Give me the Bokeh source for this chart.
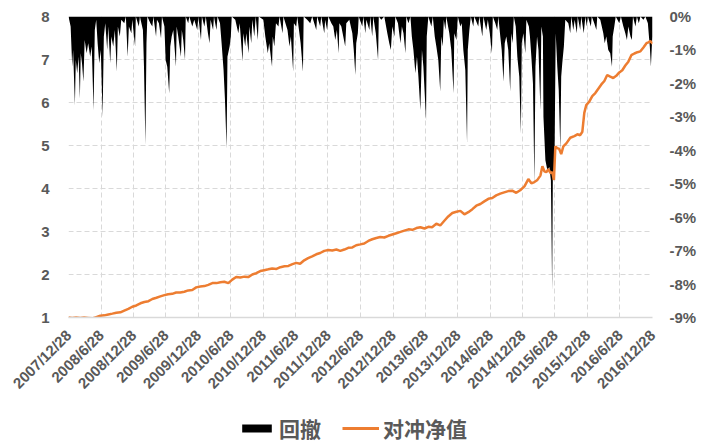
import math
import pandas as pd
from bokeh.plotting import figure
from bokeh.layouts import column
from bokeh.models import (Range1d, LinearAxis, FixedTicker, Legend, LegendItem,
                          PrintfTickFormatter)
from bokeh.embed import file_html
from bokeh.resources import INLINE

# ---------------- data ----------------
tick_labels = ["2007/12/28", "2008/6/28", "2008/12/28", "2009/6/28", "2009/12/28",
               "2010/6/28", "2010/12/28", "2011/6/28", "2011/12/28", "2012/6/28",
               "2012/12/28", "2013/6/28", "2013/12/28", "2014/6/28", "2014/12/28",
               "2015/6/28", "2015/12/28", "2016/6/28", "2016/12/28"]

left_ticks = [1, 2, 3, 4, 5, 6, 7, 8]
right_ticks = [0, -1, -2, -3, -4, -5, -6, -7, -8, -9]

dd_dates = [
    "2007-12-28", "2008-01-09", "2008-01-18", "2008-01-23", "2008-02-02", "2008-02-07",
    "2008-02-15", "2008-02-23", "2008-03-01", "2008-03-06", "2008-03-13", "2008-03-21",
    "2008-03-28", "2008-04-08", "2008-04-17", "2008-04-28", "2008-05-07", "2008-05-17",
    "2008-05-24", "2008-06-01", "2008-06-09", "2008-06-18", "2008-06-27", "2008-07-07",
    "2008-07-14", "2008-07-22", "2008-08-02", "2008-08-08", "2008-08-19", "2008-08-25",
    "2008-09-05", "2008-09-14", "2008-09-25", "2008-10-01", "2008-10-12", "2008-10-20",
    "2008-11-06", "2008-11-15", "2008-11-25", "2008-12-02", "2008-12-16", "2008-12-21",
    "2009-01-06", "2009-01-10", "2009-01-27", "2009-02-02", "2009-02-19", "2009-02-25",
    "2009-03-05", "2009-03-11", "2009-03-16", "2009-04-02", "2009-04-13", "2009-04-19",
    "2009-05-04", "2009-05-09", "2009-05-20", "2009-06-01", "2009-06-06", "2009-06-20",
    "2009-06-27", "2009-07-06", "2009-07-17", "2009-07-23", "2009-07-31", "2009-08-09",
    "2009-08-24", "2009-08-28", "2009-09-06", "2009-09-21", "2009-09-26", "2009-10-04",
    "2009-10-14", "2009-10-18", "2009-11-01", "2009-11-07", "2009-11-24", "2009-12-05",
    "2009-12-22", "2009-12-28", "2010-01-12", "2010-01-17", "2010-01-31", "2010-02-08",
    "2010-02-20", "2010-03-01", "2010-03-07", "2010-03-21", "2010-03-26", "2010-04-09",
    "2010-04-15", "2010-04-29", "2010-05-08", "2010-05-19", "2010-05-27", "2010-06-05",
    "2010-06-10", "2010-06-22", "2010-06-29", "2010-07-04", "2010-07-24", "2010-08-10",
    "2010-08-18", "2010-09-03", "2010-09-07", "2010-09-18", "2010-09-24", "2010-10-07",
    "2010-10-11", "2010-10-22", "2010-10-28", "2010-11-08", "2010-11-16", "2010-11-28",
    "2010-12-03", "2010-12-29", "2011-01-09", "2011-01-23", "2011-01-31", "2011-02-16",
    "2011-02-20", "2011-03-01", "2011-03-10", "2011-03-24", "2011-03-30", "2011-04-16",
    "2011-04-21", "2011-05-14", "2011-05-25", "2011-06-02", "2011-06-15", "2011-06-19",
    "2011-07-02", "2011-07-08", "2011-07-27", "2011-08-09", "2011-08-13", "2011-09-02",
    "2011-09-19", "2011-09-30", "2011-10-23", "2011-10-28", "2011-11-14", "2011-11-20",
    "2011-12-07", "2011-12-12", "2011-12-23", "2011-12-30", "2012-01-16", "2012-01-27",
    "2012-02-07", "2012-02-16", "2012-02-26", "2012-03-01", "2012-03-12", "2012-03-23",
    "2012-04-03", "2012-04-09", "2012-04-26", "2012-05-13", "2012-05-21", "2012-05-30",
    "2012-06-04", "2012-06-13", "2012-06-18", "2012-07-08", "2012-07-14", "2012-07-25",
    "2012-07-31", "2012-08-17", "2012-08-22", "2012-09-02", "2012-09-08", "2012-09-22",
    "2012-10-05", "2012-10-09", "2012-10-23", "2012-11-09", "2012-11-26", "2012-12-07",
    "2012-12-16", "2012-12-24", "2013-01-05", "2013-01-10", "2013-01-25", "2013-02-08",
    "2013-02-16", "2013-02-25", "2013-03-08", "2013-03-13", "2013-03-25", "2013-04-05",
    "2013-04-13", "2013-04-22", "2013-05-03", "2013-05-12", "2013-05-20", "2013-05-31",
    "2013-06-09", "2013-06-17", "2013-07-02", "2013-07-06", "2013-07-15", "2013-08-01",
    "2013-08-09", "2013-08-20", "2013-08-29", "2013-09-09", "2013-09-20", "2013-09-26",
    "2013-10-04", "2013-10-10", "2013-10-19", "2013-10-24", "2013-11-10", "2013-11-21",
    "2013-12-04", "2013-12-08", "2013-12-20", "2013-12-28", "2014-01-11", "2014-01-19",
    "2014-01-28", "2014-02-08", "2014-02-18", "2014-02-22", "2014-03-03", "2014-03-11",
    "2014-03-25", "2014-03-31", "2014-04-22", "2014-04-28", "2014-05-15", "2014-05-21",
    "2014-06-06", "2014-06-15", "2014-06-26", "2014-07-08", "2014-07-13", "2014-07-27",
    "2014-08-07", "2014-08-13", "2014-08-24", "2014-09-01", "2014-09-11", "2014-09-18",
    "2014-09-27", "2014-10-08", "2014-10-19", "2014-10-25", "2014-11-02", "2014-11-08",
    "2014-11-19", "2014-11-28", "2014-12-09", "2014-12-18", "2014-12-23", "2015-01-01",
    "2015-01-12", "2015-01-18", "2015-02-01", "2015-02-07", "2015-02-15", "2015-02-24",
    "2015-03-04", "2015-03-10", "2015-03-19", "2015-03-27", "2015-04-07", "2015-04-12",
    "2015-04-21", "2015-04-24", "2015-05-05", "2015-05-16", "2015-05-27", "2015-06-05",
    "2015-06-12", "2015-06-16", "2015-06-25", "2015-07-02", "2015-07-11", "2015-07-19",
    "2015-07-28", "2015-08-02", "2015-08-08", "2015-08-17", "2015-08-25", "2015-09-11",
    "2015-09-22", "2015-09-28", "2015-10-09", "2015-10-17", "2015-10-29", "2015-11-03",
    "2015-11-17", "2015-11-23", "2015-12-07", "2015-12-16", "2015-12-24", "2015-12-30",
    "2016-01-16", "2016-01-21", "2016-02-04", "2016-02-16", "2016-02-21", "2016-03-09",
    "2016-03-26", "2016-04-03", "2016-04-12", "2016-04-23", "2016-05-04", "2016-05-14",
    "2016-05-18", "2016-05-27", "2016-06-04", "2016-06-24", "2016-07-03", "2016-07-17",
    "2016-07-28", "2016-08-06", "2016-08-14", "2016-08-26", "2016-09-03", "2016-09-09",
    "2016-09-23", "2016-10-01", "2016-10-12", "2016-10-21", "2016-11-07", "2016-11-18",
    "2016-12-02", "2016-12-08", "2016-12-13", "2016-12-19", "2016-12-25", "2016-12-28",
]
dd_values = [
    0, -0.3, -1.5, -1.0, -2.65, -1.3,
    -1.7, -1.2, -2.45, -1.1, -1.4, -1.95,
    -0.7, -1.1, -0.8, -1.2, -0.9, -2.8,
    -0.4, -0.1, -0.8, -1.4, -1.0, -3.0,
    -0.6, -0.2, -1.0, -0.3, -1.4, -0.6,
    -0.9, -0.4, -1.65, -0.3, -0.6, -0.1,
    -0.2, 0, -1.2, -0.3, -0.5, -0.1,
    -0.9, 0, -0.3, 0, -0.4, -1.5,
    -3.85, -0.8, 0, -0.2, -0.3, 0,
    -0.6, -0.1, -0.2, -0.65, 0, -0.3,
    -1.3, -1.5, -2.3, -0.9, -0.6, -0.4,
    -1.5, -0.3, -0.6, -1.2, -0.4, -0.7,
    -1.3, 0, -0.2, 0, -0.3, -0.1,
    -0.4, 0, -0.7, 0, -0.3, 0,
    -0.5, -0.8, -0.1, -0.4, 0, -0.4,
    0, -0.2, -0.8, -1.6, -2.5, -3.95,
    -1.2, -0.9, -0.6, 0, -0.1, -0.5,
    -0.2, -1.35, -0.5, -0.9, -0.5, -1.1,
    -0.3, -0.8, -0.1, -0.6, 0, -0.7,
    0, -0.1, -0.6, -1.1, -0.8, -1.5,
    -0.6, -0.9, -0.2, -0.3, 0, -0.5,
    0, -0.4, -0.9, -0.6, -1.65, -0.2,
    -0.3, 0, -0.8, -1.65, 0, -0.1,
    -0.2, 0, -0.4, 0, -0.3, 0,
    -0.5, -0.1, -0.4, 0, -0.2, -0.3,
    -0.7, -0.4, -1.1, -0.2, -0.3, -0.6,
    -0.9, -0.2, -0.1, -0.5, -1.0, -1.75,
    -0.8, -0.5, 0, -0.3, 0, -0.5,
    -0.1, -0.4, 0, -0.6, 0, -0.5,
    -1.3, 0, -0.1, 0, -0.5, -0.8,
    -1.0, -0.3, -0.6, 0, -0.2, -0.8,
    -0.3, -0.5, -1.1, 0, -0.2, 0,
    -0.6, -1.0, -1.7, -1.2, -1.8, -2.8,
    -1.0, -1.5, -3.1, -0.6, 0, -0.3,
    0, -0.6, -0.9, -1.3, -2.25, -0.6,
    -0.9, -0.1, -0.4, 0, -0.5, -1.0,
    -2.3, -0.5, -0.7, 0, -0.3, -0.2,
    -1.0, -1.6, -3.8, -1.0, -0.4, 0,
    -0.3, 0, -0.3, 0, -0.6, 0,
    -0.4, -0.1, -0.5, -1.1, 0, -0.2,
    -0.4, 0, -0.6, -1.0, -1.95, -0.8,
    -0.6, -1.0, -2.25, -0.5, -0.8, 0,
    -0.3, -1.2, -1.8, -3.5, -0.8, -0.5,
    -1.1, -0.1, -0.3, -0.6, -1.2, -2.0,
    -5.0, -1.5, -0.6, -1.0, -2.8, -0.3,
    -0.6, -3.0, -4.3, -4.6, -4.5, -4.9,
    -8.2, -4.8, -4.5, -0.5, -1.5, -2.2,
    -4.0, -1.8, -1.4, -0.9, -0.1, -0.2,
    -0.5, 0, -0.4, -0.1, -0.5, 0,
    -0.4, 0, -0.5, 0, -0.3, 0,
    -0.3, 0, -0.2, -0.4, 0, -0.1,
    -0.5, -0.8, -0.6, -1.0, -1.1, -1.5,
    -0.6, -0.3, 0, -0.2, 0, -0.3,
    -0.5, -0.7, -0.3, -0.6, -0.7, 0,
    -0.3, 0, -0.2, 0, -0.1, 0,
    -0.2, -0.6, -0.9, -1.5, -0.8, -0.6,
]

nav_dates = [
    "2007-12-28", "2008-01-18", "2008-02-09", "2008-03-03", "2008-03-25", "2008-04-17",
    "2008-05-09", "2008-06-01", "2008-06-24", "2008-07-17", "2008-08-08", "2008-08-31",
    "2008-09-22", "2008-10-15", "2008-11-06", "2008-11-29", "2008-12-21", "2009-01-13",
    "2009-02-05", "2009-02-27", "2009-03-22", "2009-04-13", "2009-05-06", "2009-05-28",
    "2009-06-20", "2009-07-11", "2009-08-03", "2009-08-25", "2009-09-17", "2009-10-10",
    "2009-11-01", "2009-11-24", "2009-12-16", "2010-01-08", "2010-01-31", "2010-02-22",
    "2010-03-17", "2010-04-09", "2010-05-01", "2010-05-23", "2010-06-15", "2010-07-07",
    "2010-07-29", "2010-08-21", "2010-09-13", "2010-10-05", "2010-10-28", "2010-11-19",
    "2010-12-12", "2011-01-03", "2011-01-26", "2011-02-17", "2011-03-13", "2011-04-04",
    "2011-04-27", "2011-05-19", "2011-06-11", "2011-07-02", "2011-07-24", "2011-08-16",
    "2011-09-07", "2011-09-30", "2011-10-23", "2011-11-14", "2011-12-07", "2011-12-30",
    "2012-01-21", "2012-02-13", "2012-03-06", "2012-03-29", "2012-04-20", "2012-05-13",
    "2012-06-04", "2012-06-27", "2012-07-19", "2012-08-11", "2012-09-02", "2012-09-25",
    "2012-10-17", "2012-11-09", "2012-12-02", "2012-12-24", "2013-01-16", "2013-02-08",
    "2013-03-02", "2013-03-25", "2013-04-16", "2013-05-09", "2013-05-31", "2013-06-23",
    "2013-07-15", "2013-08-05", "2013-08-29", "2013-09-20", "2013-10-13", "2013-11-04",
    "2013-11-27", "2013-12-20", "2014-01-11", "2014-02-03", "2014-02-25", "2014-03-20",
    "2014-04-11", "2014-05-04", "2014-05-26", "2014-06-18", "2014-07-10", "2014-08-01",
    "2014-08-24", "2014-09-15", "2014-10-08", "2014-10-30", "2014-11-22", "2014-12-14",
    "2015-01-07", "2015-01-29", "2015-02-15", "2015-03-04", "2015-03-21", "2015-04-07",
    "2015-04-18", "2015-04-29", "2015-05-10", "2015-05-22", "2015-06-02", "2015-06-13",
    "2015-06-22", "2015-06-30", "2015-07-11", "2015-07-22", "2015-08-02", "2015-08-14",
    "2015-08-31", "2015-09-22", "2015-10-15", "2015-11-01", "2015-11-17", "2015-11-29",
    "2015-12-10", "2015-12-21", "2016-01-07", "2016-01-24", "2016-02-10", "2016-02-27",
    "2016-03-15", "2016-04-01", "2016-04-17", "2016-05-04", "2016-05-21", "2016-06-07",
    "2016-06-24", "2016-07-11", "2016-07-28", "2016-08-14", "2016-08-31", "2016-09-17",
    "2016-10-04", "2016-10-21", "2016-11-07", "2016-11-24", "2016-12-05", "2016-12-16",
    "2016-12-28",
]
nav_values = [
    1.00, 0.99, 1.00, 0.99, 1.00, 0.99,
    0.98, 1.01, 1.04, 1.05, 1.07, 1.09,
    1.11, 1.12, 1.16, 1.20, 1.25, 1.28,
    1.33, 1.36, 1.38, 1.43, 1.46, 1.49,
    1.52, 1.54, 1.55, 1.58, 1.58, 1.60,
    1.63, 1.64, 1.70, 1.72, 1.73, 1.76,
    1.80, 1.80, 1.82, 1.83, 1.80, 1.88,
    1.94, 1.93, 1.95, 1.94, 2.00, 2.03,
    2.08, 2.10, 2.12, 2.14, 2.13, 2.17,
    2.19, 2.20, 2.24, 2.27, 2.25, 2.33,
    2.38, 2.42, 2.47, 2.50, 2.55, 2.57,
    2.56, 2.58, 2.55, 2.58, 2.62, 2.63,
    2.68, 2.70, 2.72, 2.78, 2.82, 2.85,
    2.87, 2.86, 2.90, 2.93, 2.96, 2.99,
    3.02, 3.05, 3.04, 3.08, 3.10, 3.07,
    3.11, 3.10, 3.18, 3.14, 3.25, 3.35,
    3.43, 3.46, 3.48, 3.40, 3.45, 3.52,
    3.60, 3.64, 3.70, 3.76, 3.78, 3.84,
    3.88, 3.91, 3.94, 3.95, 3.90, 3.96,
    4.05, 4.22, 4.12, 4.15, 4.20, 4.30,
    4.52, 4.40, 4.38, 4.45, 4.36, 4.38,
    4.20, 4.98, 4.94, 4.92, 4.80, 4.98,
    5.05, 5.18, 5.22, 5.26, 5.24, 5.32,
    5.76, 5.94, 6.02, 6.15, 6.22, 6.32,
    6.42, 6.50, 6.64, 6.60, 6.57, 6.62,
    6.70, 6.75, 6.86, 6.95, 7.10, 7.14,
    7.17, 7.19, 7.28, 7.38, 7.40, 7.43,
    7.37,
]

legend_labels = ["回撤", "对冲净值"]

# ---------------- helpers ----------------
start = pd.Timestamp("2007-12-28")


def to_days(dates):
    return [(pd.Timestamp(d) - start).days for d in dates]


tick_pos = [(pd.to_datetime(t, format="%Y/%m/%d") - start).days for t in tick_labels]
dd_x = to_days(dd_dates)
nav_x = to_days(nav_dates)

GRAY = "#595959"
GRID = "#D9D9D9"
NUM_FONT = "Liberation Sans"
ORANGE = "#ED7D31"

# ---------------- main figure ----------------
p = figure(width=705, height=400, output_backend="svg", toolbar_location=None,
           x_range=Range1d(tick_pos[0], tick_pos[-1]), y_range=Range1d(1, 8),
           min_border_left=68, min_border_right=53, min_border_top=16,
           min_border_bottom=80)
p.extra_y_ranges = {"dd": Range1d(-9, 0)}
p.outline_line_color = None

area = p.varea(x=dd_x, y1=[0] * len(dd_x), y2=dd_values, y_range_name="dd",
               fill_color="black")
line = p.line(x=nav_x, y=nav_values, line_color=ORANGE, line_width=2.5)

# x axis
xa = p.xaxis[0]
xa.ticker = FixedTicker(ticks=tick_pos)
xa.major_label_overrides = {tp: lab for tp, lab in zip(tick_pos, tick_labels)}
xa.major_label_orientation = math.pi / 4
xa.major_label_text_font = NUM_FONT
xa.major_label_text_font_style = "bold"
xa.major_label_text_font_size = "15px"
xa.major_label_text_color = GRAY
xa.major_label_standoff = 9
xa.major_tick_line_color = None
xa.minor_tick_line_color = None
xa.axis_line_color = GRID
xa.axis_line_width = 1.5

# left axis
ya = p.yaxis[0]
ya.ticker = FixedTicker(ticks=left_ticks)
ya.major_label_text_font = NUM_FONT
ya.major_label_text_font_style = "bold"
ya.major_label_text_font_size = "15px"
ya.major_label_text_color = GRAY
ya.major_label_standoff = 13
ya.major_tick_line_color = None
ya.minor_tick_line_color = None
ya.axis_line_color = None

# right axis
ra = LinearAxis(y_range_name="dd", ticker=FixedTicker(ticks=right_ticks),
                formatter=PrintfTickFormatter(format="%d%%"))
ra.major_label_text_font = NUM_FONT
ra.major_label_text_font_style = "bold"
ra.major_label_text_font_size = "15px"
ra.major_label_text_color = GRAY
ra.major_label_standoff = 11
ra.major_tick_line_color = None
ra.minor_tick_line_color = None
ra.axis_line_color = None
p.add_layout(ra, "right")

# grids
p.xgrid.grid_line_color = GRID
p.xgrid.grid_line_dash = "5 3"
p.ygrid.grid_line_color = GRID
p.ygrid.grid_line_dash = "5 3"

# ---------------- legend strip ----------------
# same series, drawn in a strip whose ranges lie outside the data, so only the
# legend swatches show
lg = figure(width=705, height=47, output_backend="svg", toolbar_location=None,
            x_range=Range1d(-20, -10), y_range=Range1d(0, 1),
            min_border_left=0, min_border_right=0, min_border_top=0,
            min_border_bottom=0)
lg.outline_line_color = None
lg.axis.visible = False
lg.grid.visible = False
k_area = lg.varea(x=dd_x, y1=[0] * len(dd_x), y2=dd_values, fill_color="black")
k_line = lg.line(x=nav_x, y=nav_values, line_color=ORANGE, line_width=3)

legend = Legend(items=[LegendItem(label=legend_labels[0], renderers=[k_area]),
                       LegendItem(label=legend_labels[1], renderers=[k_line])],
                location=(170, 4), orientation="horizontal",
                glyph_width=37, glyph_height=10, label_standoff=4, spacing=21,
                padding=0, margin=0, border_line_color=None,
                background_fill_alpha=0,
                label_text_font="Noto Sans CJK SC", label_text_font_style="bold",
                label_text_font_size="21px", label_text_color=GRAY)
lg.add_layout(legend)

open("out.html", "w").write(file_html(column(p, lg), INLINE))
